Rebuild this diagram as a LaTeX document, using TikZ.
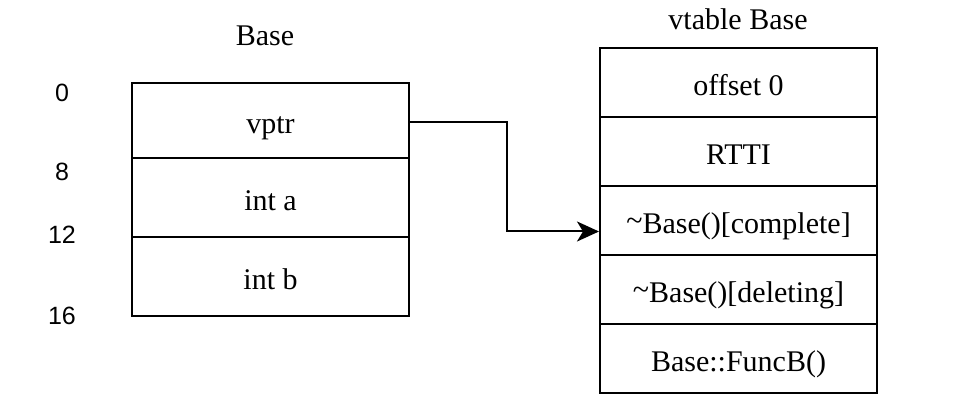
\documentclass[tikz,border=0pt]{standalone}
\usepackage{fontspec}
\setmainfont{Liberation Serif}
\newfontfamily\numfont{Liberation Sans}
\usetikzlibrary{arrows.meta}
\begin{document}
\begin{tikzpicture}[x=0.5pt,y=-0.5pt,
  cell/.style={draw, line width=1pt, rectangle, inner sep=0pt, minimum width=138.5pt,
     text height=14pt, text depth=1pt,
     font=\fontsize{15}{18}\selectfont},
  lbl/.style={inner sep=0pt, font=\fontsize{15}{18}\selectfont},
  num/.style={inner sep=0pt, font=\numfont\fontsize{12.5}{15}\selectfont},
  ptr/.style={draw, line width=1pt, -{Stealth[length=11pt,width=10pt,inset=3pt]}}]
\useasboundingbox (0,0) rectangle (978,415);
% left object
\node[cell, minimum height=37.5pt] (vptr) at (270.5,120.5) {vptr};
\node[cell, minimum height=39.5pt] (inta) at (270.5,197.5) {int a};
\node[cell, minimum height=39.5pt] (intb) at (270.5,276.5) {int b};
\node[lbl] (basettl) at (265,36) {Base};
\node[num] (n0) at (62,93) {0};
\node[num] (n8) at (62,172) {8};
\node[num] (n12) at (62,235) {12};
\node[num] (n16) at (62,316) {16};
% vtable
\node[cell, minimum height=34.5pt] (off) at (738.5,82.5) {offset 0};
\node[cell, minimum height=34.5pt] (rtti) at (738.5,151.5) {RTTI};
\node[cell, minimum height=34.5pt] (comp) at (738.5,220.5) {\raisebox{0.25ex}{\textasciitilde}Base()[complete]};
\node[cell, minimum height=34.5pt] (del) at (738.5,289.5) {\raisebox{0.25ex}{\textasciitilde}Base()[deleting]};
\node[cell, minimum height=34.5pt] (funcb) at (738.5,358.5) {Base::FuncB()};
\node[lbl] (vtttl) at (738,19) {vtable Base};
% pointer
\coordinate (bend) at (507,0);
\draw[ptr] ([yshift=-0.75pt]vptr.east) -- ([yshift=-0.75pt]vptr.east -| bend) |- ([yshift=-5.5pt]comp.west);
\end{tikzpicture}
\end{document}
